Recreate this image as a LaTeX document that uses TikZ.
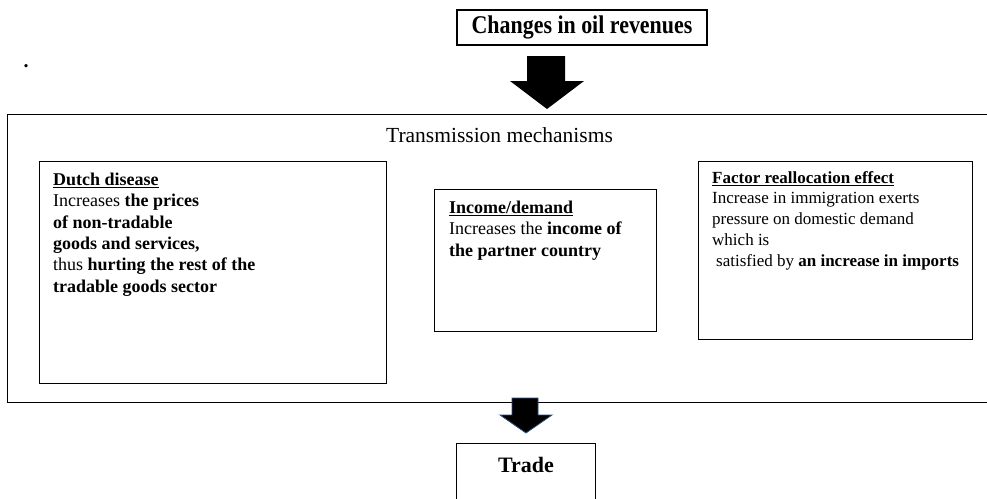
\documentclass[tikz,border=0pt]{standalone}
\usepackage{fontspec}
\setmainfont{Liberation Serif}
\newfontfamily\condserif[FakeStretch=0.86]{Liberation Serif}
\usetikzlibrary{calc}
\definecolor{arrowblue}{HTML}{2F5080}
\tikzset{
  box/.style={draw, line width=1.1pt, inner sep=0},
  body/.style={anchor=north west, inner sep=0, align=left,
    font=\fontsize{18}{21.3}\selectfont},
  bodyr/.style={body, font=\fontsize{17}{20.8}\selectfont},
  blockarrow/.style={fill=black},
}
\begin{document}
\begin{tikzpicture}[x=1pt,y=-1pt]
\useasboundingbox (0,0) rectangle (987,498);
% top box
\node[box, minimum width=250pt, minimum height=35pt,
  font=\condserif\bfseries\fontsize{25.5}{25.5}\selectfont] (oil) at (582,27.5) {Changes in oil revenues};
% stray dot
\node[inner sep=0, anchor=base, font=\bfseries\fontsize{20}{20}\selectfont] (dot) at (26,67) {.};
% big box
\node[box, anchor=north west, minimum width=990pt, minimum height=288pt] (tm) at (7,114) {};
\node[inner sep=0, font=\fontsize{21.5}{21.5}\selectfont] (tmlabel) at (499.5,135) {Transmission mechanisms};
% inner boxes
\node[box, anchor=north west, minimum width=347pt, minimum height=222pt] (dutch) at (39,161) {};
\node[box, anchor=north west, minimum width=222pt, minimum height=142pt] (inc) at (434,189) {};
\node[box, anchor=north west, minimum width=274pt, minimum height=178pt] (fac) at (698,161) {};
\node[body] (dutchtext) at (53,173) {\textbf{\underline{Dutch disease}}\\
Increases \textbf{the prices}\\
\textbf{of non-tradable}\\
\textbf{goods and services,}\\
thus \textbf{hurting the rest of the}\\
\textbf{tradable goods sector}};
\node[body] (inctext) at (449,201) {\textbf{\underline{Income/demand}}\\
Increases the \textbf{income of}\\
\textbf{the partner country}};
\node[bodyr] (factext) at (712,171) {\textbf{\underline{Factor reallocation effect}}\\
Increase in immigration exerts\\
pressure on domestic demand\\
which is\\
\hspace*{4pt}satisfied by \textbf{an increase in imports}};
% trade box
\node[box, anchor=north west, minimum width=139pt, minimum height=70pt] (trade) at (456,443) {};
\node[inner sep=0, font=\bfseries\fontsize{22}{22}\selectfont] (tradetext) at (526,465) {Trade};
% block arrows
\coordinate (a1tail) at (547,56);
\coordinate (a1tip) at (547,109);
\fill[blockarrow] ($(a1tail)+(-20,0)$) -- ($(a1tail)+(18,0)$) -- ($(a1tail)+(18,25)$)
  -- ($(a1tail)+(37,25)$) -- (a1tip) -- ($(a1tail)+(-37,25)$) -- ($(a1tail)+(-20,25)$) -- cycle;
\coordinate (a2tail) at (526,398);
\coordinate (a2tip) at (526,433);
\filldraw[blockarrow, draw=arrowblue, line width=0.8pt] ($(a2tail)+(-14,0)$) -- ($(a2tail)+(12,0)$) -- ($(a2tail)+(12,17)$)
  -- ($(a2tail)+(26,17)$) -- (a2tip) -- ($(a2tail)+(-26,17)$) -- ($(a2tail)+(-14,17)$) -- cycle;
\end{tikzpicture}
\end{document}
